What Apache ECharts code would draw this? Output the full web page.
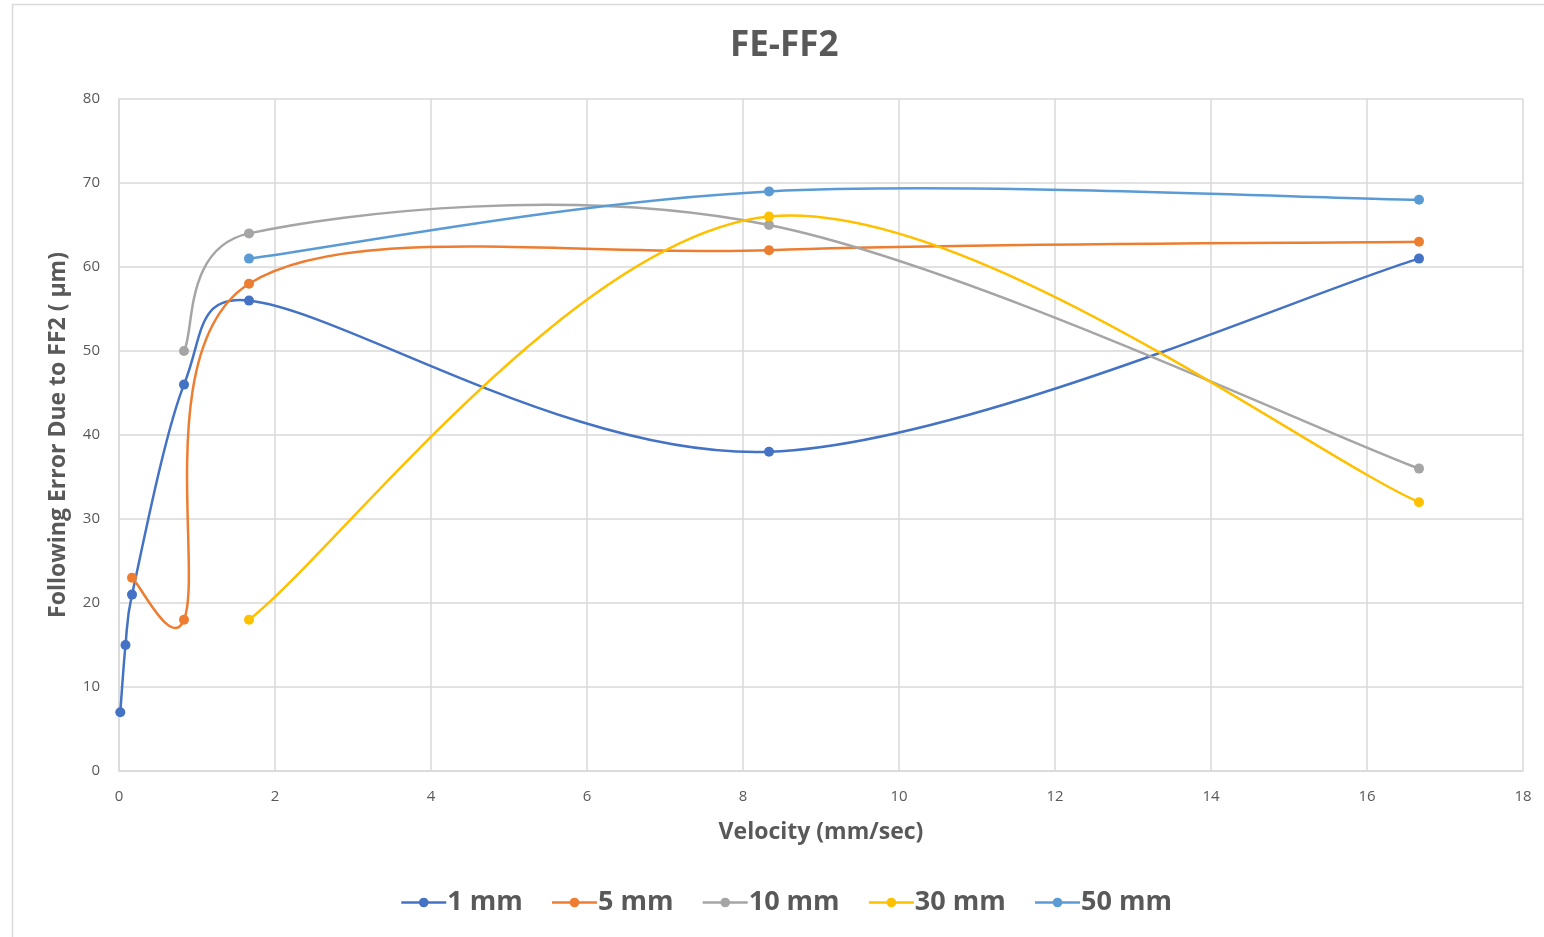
<!DOCTYPE html>
<html>
<head>
<meta charset="utf-8">
<title>FE-FF2</title>
<script src="https://cdn.jsdelivr.net/npm/echarts@6/dist/echarts.min.js"></script>
<style>
  html, body { margin: 0; padding: 0; background: #fff; }
  #chart { width: 1544px; height: 937px; }
</style>
</head>
<body>
<div id="chart"></div>
<script>
// Velocity in mm/sec (feed rates 1, 5, 10, 50, 100, 500, 1000 mm/min)
const vel1mm  = [1/60, 5/60, 10/60, 50/60, 100/60, 500/60, 1000/60];
const err1mm  = [7, 15, 21, 46, 56, 38, 61];

const vel5mm  = [10/60, 50/60, 100/60, 500/60, 1000/60];
const err5mm  = [23, 18, 58, 62, 63];

const vel10mm = [50/60, 100/60, 500/60, 1000/60];
const err10mm = [50, 64, 65, 36];

const vel30mm = [100/60, 500/60, 1000/60];
const err30mm = [18, 66, 32];

const vel50mm = [100/60, 500/60, 1000/60];
const err50mm = [61, 69, 68];

const seriesNames  = ['1 mm', '5 mm', '10 mm', '30 mm', '50 mm'];
const seriesColors = ['#4472C4', '#ED7D31', '#A5A5A5', '#FFC000', '#5B9BD5'];
const seriesX = [vel1mm, vel5mm, vel10mm, vel30mm, vel50mm];
const seriesY = [err1mm, err5mm, err10mm, err30mm, err50mm];

const FONT = '"Open Sans", "Noto Sans", "Liberation Sans", sans-serif';
const TEXT = '#595959';
const GRID_COLOR = '#d9d9d9';

const chart = echarts.init(document.getElementById('chart'), null, { renderer: 'canvas' });

// Spreadsheet-style smoothed line: each segment is a cubic Bezier whose
// handles follow the Catmull-Rom rule (tangent = (next - prev) / 6),
// limited to half the segment length, computed in pixel space after the
// points pass through the axes.
function splineSegment(xs, ys, color) {
  const f = 1 / 6;
  function handle(a, b, segLen) {
    let hx = (b[0] - a[0]) * f, hy = (b[1] - a[1]) * f;
    const len = Math.hypot(hx, hy), cap = segLen * 0.5;
    if (len > cap && len > 0) { hx *= cap / len; hy *= cap / len; }
    return [hx, hy];
  }
  return function (params, api) {
    const i = params.dataIndex;
    const n = xs.length;
    if (i >= n - 1) return null;
    const pt = k => {
      const j = Math.max(0, Math.min(n - 1, k));
      return api.coord([xs[j], ys[j]]);
    };
    const p0 = pt(i - 1), p1 = pt(i), p2 = pt(i + 1), p3 = pt(i + 2);
    const seg = Math.hypot(p2[0] - p1[0], p2[1] - p1[1]);
    const h1 = handle(p0, p2, seg);
    const h2 = handle(p1, p3, seg);
    return {
      type: 'bezierCurve',
      shape: {
        x1: p1[0], y1: p1[1],
        x2: p2[0], y2: p2[1],
        cpx1: p1[0] + h1[0], cpy1: p1[1] + h1[1],
        cpx2: p2[0] - h2[0], cpy2: p2[1] - h2[1]
      },
      style: { fill: null, stroke: color, lineWidth: 2.5, lineCap: 'round' },
      silent: true
    };
  };
}

const series = [];
seriesNames.forEach((name, i) => {
  const pts = seriesX[i].map((x, k) => [x, seriesY[i][k]]);
  // markers and legend entry (straight line hidden; the curve is drawn separately)
  series.push({
    name: name,
    type: 'line',
    data: pts,
    symbol: 'circle',
    symbolSize: 10,
    lineStyle: { width: 2.5, color: seriesColors[i], opacity: 0 },
    itemStyle: { color: seriesColors[i] },
    z: 3 + i * 2
  });
  // smoothed curve through the same points
  series.push({
    name: name,
    type: 'custom',
    coordinateSystem: 'cartesian2d',
    renderItem: splineSegment(seriesX[i], seriesY[i], seriesColors[i]),
    data: pts,
    encode: { x: 0, y: 1 },
    z: 2 + i * 2
  });
});

chart.setOption({
  animation: false,
  color: seriesColors,
  title: {
    text: 'FE-FF2',
    left: 725,
    top: 24,
    textStyle: { fontFamily: FONT, fontSize: 35, fontWeight: 'bold', color: TEXT }
  },
  graphic: [{
    type: 'rect',
    shape: { x: 12.5, y: 4.5, width: 1600, height: 1000 },
    style: { fill: 'none', stroke: GRID_COLOR, lineWidth: 1.5 },
    silent: true,
    z: -10
  }],
  legend: {
    top: 884,
    left: 395,
    itemWidth: 45,
    itemHeight: 12,
    itemGap: 28,
    lineStyle: { opacity: 1, width: 2.5 },
    textStyle: { fontFamily: FONT, fontSize: 27, fontWeight: 'bold', color: TEXT, padding: [0, 0, 0, -4] },
    data: seriesNames
  },
  grid: { left: 119, top: 99, right: 21, bottom: 166, containLabel: false },
  xAxis: {
    type: 'value',
    min: 0, max: 18, interval: 2,
    name: 'Velocity (mm/sec)',
    nameLocation: 'middle',
    nameGap: 50,
    nameTextStyle: { fontFamily: FONT, fontSize: 23, fontWeight: 'bold', color: TEXT },
    axisLine: { show: true, lineStyle: { color: GRID_COLOR, width: 1.5 } },
    axisTick: { show: false },
    axisLabel: { fontFamily: FONT, fontSize: 15, color: TEXT, margin: 18 },
    splitLine: { show: true, lineStyle: { color: GRID_COLOR, width: 1.5 } }
  },
  yAxis: {
    type: 'value',
    min: 0, max: 80, interval: 10,
    name: 'Following Error Due to FF2 ( \u03bcm)',
    nameLocation: 'middle',
    nameGap: 49,
    nameTextStyle: { fontFamily: FONT, fontSize: 23, fontWeight: 'bold', color: TEXT },
    axisLine: { show: true, lineStyle: { color: GRID_COLOR, width: 1.5 } },
    axisTick: { show: false },
    axisLabel: { fontFamily: FONT, fontSize: 15, color: TEXT, margin: 19 },
    splitLine: { show: true, lineStyle: { color: GRID_COLOR, width: 1.5 } }
  },
  series: series
});
</script>
</body>
</html>
